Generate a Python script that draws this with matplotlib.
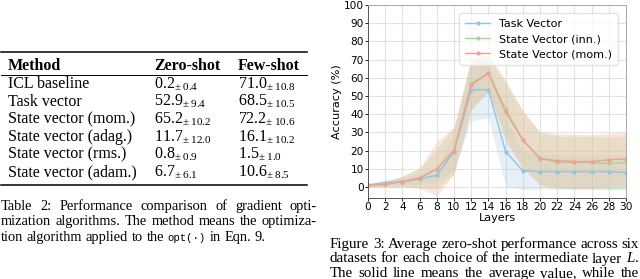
import numpy as np
import matplotlib
matplotlib.use("Agg")
import matplotlib.pyplot as plt
from matplotlib.lines import Line2D

plt.rcParams['mathtext.fontset'] = 'custom'
plt.rcParams['mathtext.rm'] = 'Liberation Serif'
plt.rcParams['mathtext.it'] = 'Liberation Serif:italic'
plt.rcParams['mathtext.bf'] = 'Liberation Serif:bold'
plt.rcParams['mathtext.tt'] = 'Liberation Mono'

# ---------------- data ----------------
methods = ["ICL baseline", "Task vector", "State vector (mom.)", "State vector (adag.)",
           "State vector (rms.)", "State vector (adam.)"]
zero_mean = ["0.2", "52.9", "65.2", "11.7", "0.8", "6.7"]
zero_std = ["0.4", "9.4", "10.2", "12.0", "0.9", "6.1"]
few_mean = ["71.0", "68.5", "72.2", "16.1", "1.5", "10.6"]
few_std = ["10.8", "10.5", "10.6", "10.2", "1.0", "8.5"]
table_header = ["Method", "Zero-shot", "Few-shot"]

layers = [0, 2, 4, 6, 8, 10, 12, 14, 16, 18, 20, 22, 24, 26, 28, 30]
task_mean = [1.0, 2.5, 3.0, 4.5, 6.5, 19.5, 53.5, 53.5, 19.5, 9.0, 8.5, 8.5, 8.5, 8.5, 8.5, 8.0]
task_std = [1.0, 1.5, 2.0, 3.0, 4.0, 10.0, 17.0, 15.5, 19.0, 10.5, 9.5, 9.5, 9.5, 9.5, 9.5, 9.5]
inn_mean = [1.0, 1.5, 3.0, 5.0, 10.0, 20.0, 57.0, 62.5, 43.0, 26.0, 16.0, 13.5, 13.5, 13.5, 13.0, 13.5]
inn_std = [1.0, 1.5, 3.0, 5.5, 11.0, 13.0, 14.0, 10.0, 16.0, 15.5, 14.5, 14.5, 14.5, 14.5, 14.5, 14.5]
mom_mean = [1.0, 1.5, 3.0, 5.0, 10.0, 20.0, 56.0, 62.5, 41.0, 26.0, 15.5, 14.5, 14.0, 14.0, 15.0, 15.5]
mom_std = [1.0, 1.5, 3.0, 5.5, 15.0, 13.0, 14.0, 10.0, 16.0, 16.0, 14.5, 15.0, 15.0, 15.0, 14.5, 14.5]
series_labels = ["Task Vector", "State Vector (inn.)", "State Vector (mom.)"]

caption_left = [
    ["Table", "2:", "Performance", "comparison", "of", "gradient", "opti-"],
    ["mization", "algorithms.", "The", "method", "means", "the", "optimiza-"],
    ["tion", "algorithm", "applied", "to", "the", ("opt(·)", "mono"), "in", "Eqn.", "9."],
]
caption_right = [
    ["Figure", "3:", "Average", "zero-shot", "performance", "across", "six"],
    ["datasets", "for", "each", "choice", "of", "the", "intermediate", "layer", "$L$."],
    ["The", "solid", "line", "means", "the", "average", "value,", "while", "the"],
]

W, H = 640, 279
fig = plt.figure(figsize=(W / 100, H / 100), dpi=100)
renderer = fig.canvas.get_renderer()


def fx(x):
    return x / W


def fy(y):
    return 1 - y / H


SERIF = "Liberation Serif"


def put(x, y, s, **kw):
    return fig.text(fx(x), fy(y), s, transform=fig.transFigure, va="baseline", **kw)


def text_line(words, x0, x1, y, size, justify=True):
    arts = []
    for w in words:
        if isinstance(w, tuple):
            t = put(0, y, w[0], family="Liberation Mono", fontsize=size * 0.74)
        else:
            t = put(0, y, w, family=SERIF, fontsize=size)
        arts.append(t)
    widths = [a.get_window_extent(renderer).width for a in arts]
    if justify and len(arts) > 1:
        gap = (x1 - x0 - sum(widths)) / (len(arts) - 1)
    else:
        gap = size * 100 / 72 * 0.25
    x = x0
    for a, w in zip(arts, widths):
        a.set_x(fx(x))
        x += w + gap


# ---------------- table ----------------
TS = 11.5
col_x = [8, 154, 238]
rule_x0, rule_x1 = 1, 307
fig.add_artist(Line2D([fx(rule_x0), fx(rule_x1)], [fy(52), fy(52)], transform=fig.transFigure, color="black", lw=1.1))
fig.add_artist(Line2D([fx(rule_x0), fx(rule_x1)], [fy(74.5), fy(74.5)], transform=fig.transFigure, color="black", lw=0.7))
fig.add_artist(Line2D([fx(rule_x0), fx(rule_x1)], [fy(185), fy(185)], transform=fig.transFigure, color="black", lw=1.1))
for cx, h in zip(col_x, table_header):
    put(cx, 70, h, family=SERIF, fontsize=TS, fontweight="bold")
row_y0, row_dy = 88.3, 17.6
for i, m in enumerate(methods):
    y = row_y0 + i * row_dy
    put(col_x[0], y, m, family=SERIF, fontsize=TS)
    put(col_x[1], y, r"$%s_{\pm\;%s}$" % (zero_mean[i], zero_std[i]), fontsize=TS)
    put(col_x[2], y, r"$%s_{\pm\;%s}$" % (few_mean[i], few_std[i]), fontsize=TS)

# captions
for k, words in enumerate(caption_left):
    text_line(words, 1, 317, 209.7 + k * 15.5, 10.4, justify=(k < 2))
for k, words in enumerate(caption_right):
    text_line(words, 330, 639, 248.3 + k * 14.2, 10.8, justify=True)

# ---------------- chart ----------------
ax = fig.add_axes([fx(368), fy(198), (626 - 368) / W, (198 - 5) / H])
x = np.array(layers)
colors = ["#93c3e3", "#a8d892", "#f59e94"]
fills = ["#9ecae1", "#b5dc98", "#f6b6a6"]
means = [task_mean, inn_mean, mom_mean]
stds = [task_std, inn_std, mom_std]
falpha = [0.25, 0.35, 0.35]
for m, s, c, fc, lab, fa in zip(means, stds, colors, fills, series_labels, falpha):
    m = np.array(m)
    s = np.array(s)
    ax.fill_between(x, m - s, m + s, color=fc, alpha=fa, lw=0)
for m, c, lab in zip(means, colors, series_labels):
    ax.plot(x, m, color=c, lw=1.0, marker="o", ms=2.0, label=lab)

ax.set_xlim(0, 30)
ax.set_ylim(-6, 100)
ax.set_xticks(range(0, 31, 2))
ax.set_yticks(range(0, 101, 10))
ax.grid(True, color="#e2e2e2", lw=0.8)
ax.set_axisbelow(True)
ax.tick_params(labelsize=7.6, length=2.2, width=0.6, pad=0.8)
for sp in ax.spines.values():
    sp.set_color("#555555")
    sp.set_linewidth(0.7)
ax.spines["right"].set_color("#aaaaaa")
ax.spines["top"].set_color("#aaaaaa")
ax.set_xlabel("Layers", fontsize=8.1, labelpad=0.5)
ax.set_ylabel("Accuracy (%)", fontsize=8.1, labelpad=1.5)
leg = ax.legend(loc="upper right", fontsize=8.0, frameon=True, framealpha=0.8,
                edgecolor="#dddddd", handlelength=2.3, handletextpad=0.8,
                borderpad=0.5, labelspacing=0.45,
                bbox_to_anchor=(0.99, 0.985))

fig.savefig("out.png", dpi=100)
